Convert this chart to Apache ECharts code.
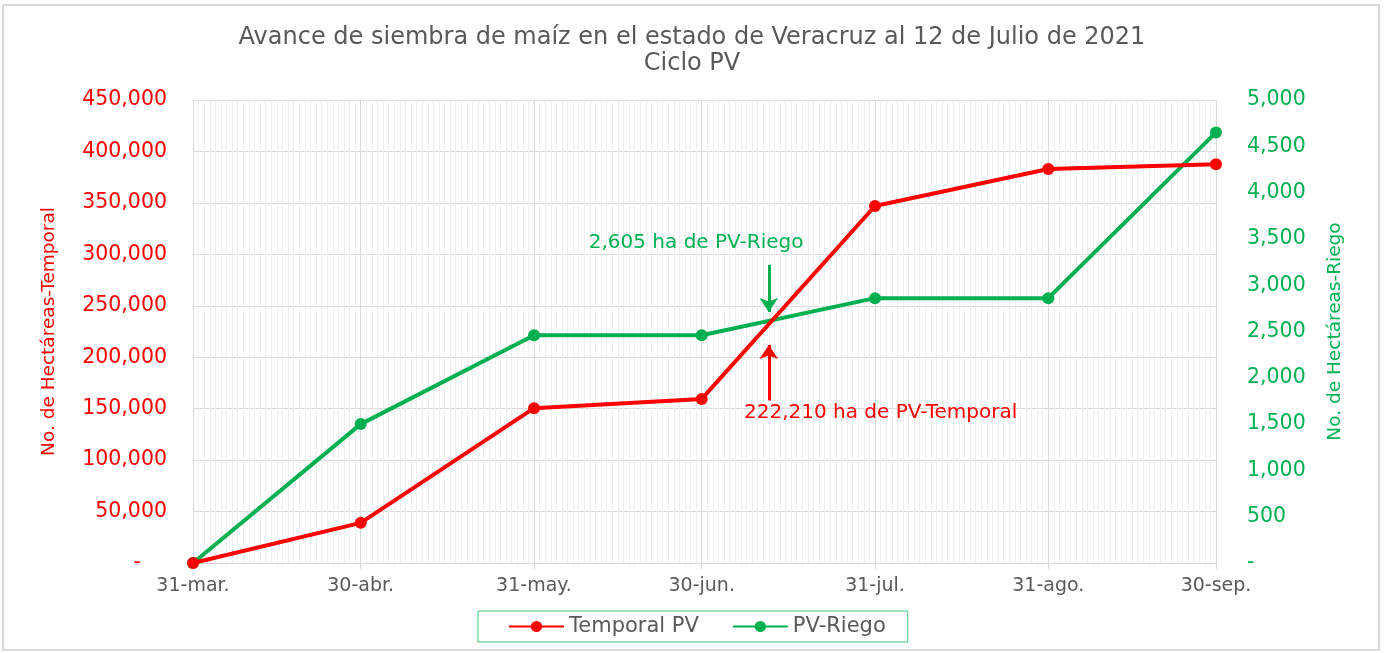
<!DOCTYPE html>
<html><head><meta charset="utf-8">
<script src="https://cdn.jsdelivr.net/npm/echarts@6/dist/echarts.min.js"></script>
<style>html,body{margin:0;padding:0;background:#fff}#c{width:1384px;height:653px}</style>
</head><body><div id="c"></div>
<script>
const dates = ['2021-03-31','2021-04-30','2021-05-31','2021-06-30','2021-07-31','2021-08-31','2021-09-30'];
const tickLabels = ['31-mar.','30-abr.','31-may.','30-jun.','31-jul.','31-ago.','30-sep.'];
const temporal = [0, 39000, 150500, 159500, 347000, 383000, 387500];
const riego = [0, 1500, 2460, 2460, 2860, 2860, 4650];
const annotDate = '2021-07-12';
const annotTemporal = 222210;
const annotRiego = 2605;
const riegoArrow = [3220, 2710];
const temporalArrow = [158000, 212000];
const riegoTextPos = ['2021-06-29', 3460];
const temporalTextPos = ['2021-08-01', 146000];

const FONT = '"DejaVu Sans", sans-serif';
const RED = '#ff0000', GREEN = '#00b050', GRAY = '#595959';
function ts(s){const p=s.split('-').map(Number);return Date.UTC(p[0],p[1]-1,p[2]);}
const t0 = ts(dates[0]);
function day(s){return Math.round((ts(s)-t0)/86400000);}
const tickDays = dates.map(day);
const nDays = tickDays[tickDays.length-1];
function fmt(v){return v===0?'-':v.toLocaleString('en-US');}

const chart = echarts.init(document.getElementById('c'));
chart.setOption({
  animation:false,
  textStyle:{fontFamily:FONT},
  title:{text:'Avance de siembra de maíz en el estado de Veracruz al 12 de Julio de 2021\nCiclo PV',
    left:'center', top:20, textStyle:{fontFamily:FONT,fontSize:24,fontWeight:'normal',color:GRAY,lineHeight:26}},
  graphic:[{type:'rect',shape:{x:3,y:5,width:1376,height:645},style:{fill:'none',stroke:'#d9d9d9',lineWidth:2},z:-10}],
  grid:{left:193,right:168,top:100,bottom:90},
  legend:{left:478,top:611,itemWidth:55,itemHeight:14,itemGap:33,padding:[5,22,5,30],
    borderColor:'#3cc47a',borderWidth:1,
    textStyle:{fontFamily:FONT,fontSize:21,color:GRAY},
    data:['Temporal PV','PV-Riego']},
  xAxis:[
    {type:'value',position:'bottom',min:0,max:nDays,interval:1,axisLabel:{show:false},axisLine:{show:false},axisTick:{show:false},
     splitLine:{show:true,lineStyle:{color:'#efefef',width:1}}},
    {type:'value',position:'bottom',min:0,max:nDays,
     axisLine:{show:true,lineStyle:{color:'#d9d9d9',width:1}},
     axisTick:{show:true,customValues:tickDays,length:6,lineStyle:{color:'#d9d9d9'}},
     splitLine:{show:true,lineStyle:{color:'#d9d9d9',width:1}},
     axisLabel:{customValues:tickDays,color:GRAY,fontSize:19,fontFamily:FONT,margin:14,
       formatter:function(v){const i=tickDays.indexOf(v);return i>=0?tickLabels[i]:'';}}}
  ],
  yAxis:[
    {type:'value',min:0,max:450000,interval:50000,name:'No. de Hectáreas-Temporal',nameLocation:'middle',nameGap:134,
     nameTextStyle:{color:RED,fontSize:18.5,fontFamily:FONT},
     axisLine:{show:false},axisTick:{show:false},
     axisLabel:{color:RED,fontSize:20.5,fontFamily:FONT,margin:26,formatter:function(v){return v===0?'-    ':fmt(v);}},
     splitLine:{show:true,lineStyle:{color:'#d9d9d9'}}},
    {type:'value',min:0,max:5000,interval:500,name:'No. de Hectáreas-Riego',nameLocation:'middle',nameGap:110,
     nameTextStyle:{color:GREEN,fontSize:18.5,fontFamily:FONT},
     axisLine:{show:false},axisTick:{show:false},
     axisLabel:{color:GREEN,fontSize:20.5,fontFamily:FONT,margin:31,formatter:fmt},
     splitLine:{show:false}}
  ],
  series:[
    {name:'Temporal PV',type:'line',xAxisIndex:1,yAxisIndex:0,
     data:dates.map((d,i)=>[day(d),temporal[i]]),
     symbol:'circle',symbolSize:12,lineStyle:{color:RED,width:4},itemStyle:{color:RED},z:3,
     markLine:{silent:true,symbol:['none','arrow'],symbolSize:14,label:{show:false},
       lineStyle:{color:RED,width:3,type:'solid'},
       data:[[{coord:[day(annotDate),temporalArrow[0]]},{coord:[day(annotDate),temporalArrow[1]]}]]},
     markPoint:{silent:true,symbol:'circle',symbolSize:0,
       label:{show:true,position:'inside',color:RED,fontSize:20,fontFamily:FONT,
         formatter:annotTemporal.toLocaleString('en-US')+' ha de PV-Temporal'},
       data:[{coord:[day(temporalTextPos[0]),temporalTextPos[1]]}]}},
    {name:'PV-Riego',type:'line',xAxisIndex:1,yAxisIndex:1,
     data:dates.map((d,i)=>[day(d),riego[i]]),
     symbol:'circle',symbolSize:12,lineStyle:{color:GREEN,width:4},itemStyle:{color:GREEN},z:2,
     markLine:{silent:true,symbol:['none','arrow'],symbolSize:14,label:{show:false},
       lineStyle:{color:GREEN,width:3,type:'solid'},
       data:[[{coord:[day(annotDate),riegoArrow[0]]},{coord:[day(annotDate),riegoArrow[1]]}]]},
     markPoint:{silent:true,symbol:'circle',symbolSize:0,
       label:{show:true,position:'inside',color:GREEN,fontSize:20,fontFamily:FONT,
         formatter:annotRiego.toLocaleString('en-US')+' ha de PV-Riego'},
       data:[{coord:[day(riegoTextPos[0]),riegoTextPos[1]]}]}}
  ]
});
</script></body></html>
